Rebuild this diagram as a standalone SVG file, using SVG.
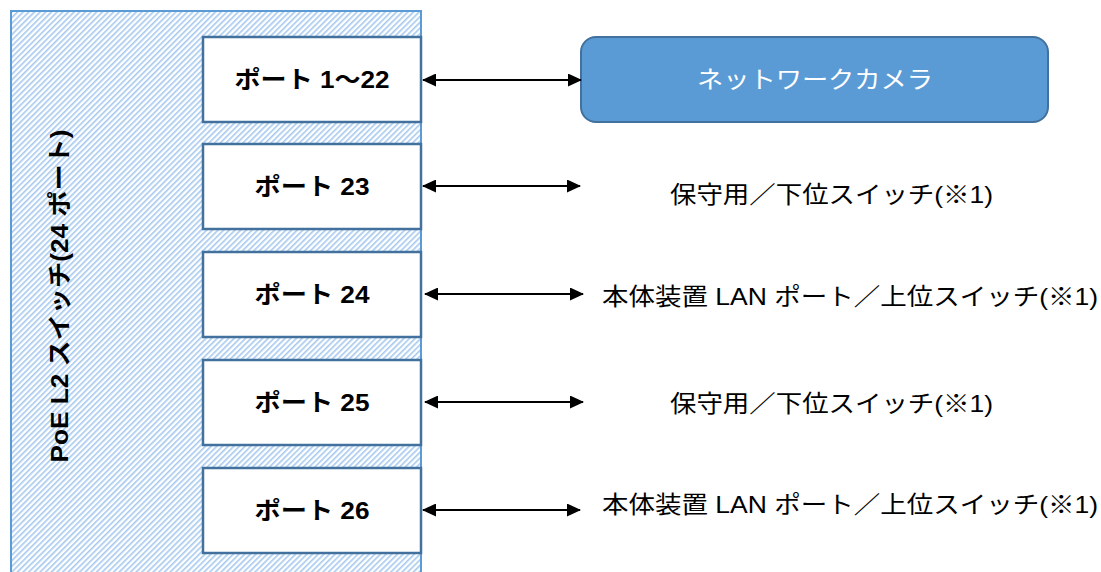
<svg xmlns="http://www.w3.org/2000/svg" width="1101" height="572" viewBox="0 0 1101 572">
<style>
.port{fill:#fff;stroke:#41719c;stroke-width:2.5}
.plabel{font-family:"Liberation Sans","Noto Sans CJK JP",sans-serif;font-weight:bold;font-size:24px;fill:#000;text-anchor:middle}
.lbl{font-family:"Liberation Sans","Noto Sans CJK JP",sans-serif;font-size:24px;fill:#000}
.conn{stroke:#000;stroke-width:2;fill:none;marker-start:url(#ah);marker-end:url(#ah)}
</style>
<defs>
<pattern id="hatch" patternUnits="userSpaceOnUse" width="4" height="4" patternTransform="rotate(45)">
<rect width="4" height="4" fill="#ffffff"/>
<rect width="1.6" height="4" fill="#a6c9ee"/>
</pattern>
<marker id="ah" viewBox="0 0 14 13" refX="13" refY="6.5" markerWidth="14" markerHeight="13" markerUnits="userSpaceOnUse" orient="auto-start-reverse">
<path d="M0,0 L14,6.5 L0,13 Z" fill="#000"/>
</marker>
</defs>
<rect width="1101" height="572" fill="#fff"/>
<g id="switch">
<rect x="11" y="11" width="410" height="580" fill="url(#hatch)" stroke="#5b9bd5" stroke-width="2"/>
<text class="plabel" font-size="22" transform="translate(68,296) rotate(-90)" textLength="333" lengthAdjust="spacingAndGlyphs">PoE L2 スイッチ(24 ポート)</text>
</g>
<g id="port1-22">
<rect class="port" x="203" y="37" width="218" height="85"/>
<text class="plabel" x="312" y="88" textLength="155" lengthAdjust="spacingAndGlyphs">ポート 1～22</text>
</g>
<g id="port23">
<rect class="port" x="203" y="144" width="218" height="85"/>
<text class="plabel" x="312" y="195" textLength="115" lengthAdjust="spacingAndGlyphs">ポート 23</text>
</g>
<g id="port24">
<rect class="port" x="203" y="252" width="218" height="85"/>
<text class="plabel" x="312" y="303" textLength="115" lengthAdjust="spacingAndGlyphs">ポート 24</text>
</g>
<g id="port25">
<rect class="port" x="203" y="360" width="218" height="85"/>
<text class="plabel" x="312" y="411" textLength="115" lengthAdjust="spacingAndGlyphs">ポート 25</text>
</g>
<g id="port26">
<rect class="port" x="203" y="468" width="218" height="85"/>
<text class="plabel" x="312" y="519" textLength="115" lengthAdjust="spacingAndGlyphs">ポート 26</text>
</g>
<g id="camera">
<rect x="581" y="37" width="467" height="85" rx="15" fill="#5b9bd5" stroke="#41719c" stroke-width="2"/>
<text x="815" y="88" font-family="'Noto Sans CJK JP',sans-serif" font-size="24" fill="#fff" text-anchor="middle" textLength="236" lengthAdjust="spacingAndGlyphs">ネットワークカメラ</text>
</g>
<g id="label23"><text class="lbl" x="670" y="203" textLength="323" lengthAdjust="spacingAndGlyphs">保守用／下位スイッチ(※1)</text></g>
<g id="label24"><text class="lbl" x="602" y="305" textLength="496" lengthAdjust="spacingAndGlyphs">本体装置 LAN ポート／上位スイッチ(※1)</text></g>
<g id="label25"><text class="lbl" x="670" y="412" textLength="323" lengthAdjust="spacingAndGlyphs">保守用／下位スイッチ(※1)</text></g>
<g id="label26"><text class="lbl" x="602" y="513" textLength="496" lengthAdjust="spacingAndGlyphs">本体装置 LAN ポート／上位スイッチ(※1)</text></g>
<g id="connectors">
<line class="conn" x1="423" y1="80" x2="581" y2="80"/>
<line class="conn" x1="423" y1="186" x2="580" y2="186"/>
<line class="conn" x1="425" y1="294" x2="583" y2="294"/>
<line class="conn" x1="425" y1="402" x2="583" y2="402"/>
<line class="conn" x1="423" y1="510" x2="580" y2="510"/>
</g>
</svg>
